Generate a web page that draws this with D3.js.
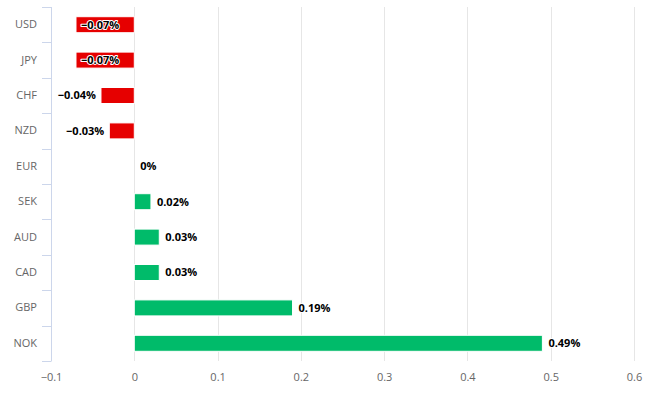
<!DOCTYPE html>
<html>
<head>
<meta charset="utf-8">
<script src="https://cdn.jsdelivr.net/npm/d3@7"></script>
<style>
  body { margin: 0; background: #fff; }
  text { font-family: "Open Sans", "Noto Sans", sans-serif; }
</style>
</head>
<body>
<div class="canvas"></div>
<script>
// data
const currencies = ['USD', 'JPY', 'CHF', 'NZD', 'EUR', 'SEK', 'AUD', 'CAD', 'GBP', 'NOK'];
const changes = [-0.07, -0.07, -0.04, -0.03, 0, 0.02, 0.03, 0.03, 0.19, 0.49];
const xTicks = [-0.1, 0, 0.1, 0.2, 0.3, 0.4, 0.5, 0.6];

const data = currencies.map((c, i) => ({name: c, value: changes[i]}));

const width = 649, height = 394;
const margin = {top: 7, right: 15, bottom: 33, left: 51};
const graphWidth = width - margin.left - margin.right;
const graphHeight = height - margin.top - margin.bottom;

const svg = d3.select('.canvas')
    .append('svg')
    .attr('width', width)
    .attr('height', height);

const graph = svg.append('g')
    .attr('transform', `translate(${margin.left},${margin.top})`);

const x = d3.scaleLinear()
    .domain([-0.1, 0.6])
    .range([0, graphWidth]);

const y = d3.scaleBand()
    .domain(currencies)
    .range([0, graphHeight]);

// gridlines
graph.append('g')
    .selectAll('line')
    .data(xTicks.slice(1))
    .enter()
    .append('line')
    .attr('x1', d => Math.round(x(d)) + 0.5)
    .attr('x2', d => Math.round(x(d)) + 0.5)
    .attr('y1', 0)
    .attr('y2', graphHeight)
    .attr('stroke', '#e6e6e6');

// bars
const barH = 16;
graph.selectAll('rect')
    .data(data)
    .enter()
    .append('rect')
    .attr('x', d => x(Math.min(0, d.value)))
    .attr('width', d => Math.abs(x(d.value) - x(0)))
    .attr('y', d => y(d.name) + y.bandwidth() / 2 - barH / 2)
    .attr('height', barH)
    .attr('fill', d => d.value < 0 ? '#e60000' : '#00bb6a')
    .attr('stroke', '#fff')
    .attr('stroke-width', 1);

// data labels
const fmt = v => (v < 0 ? '\u2212' + Math.abs(v) : v) + '%';
const labels = graph.selectAll('.lbl')
    .data(data)
    .enter()
    .append('text')
    .attr('class', 'lbl')
    .attr('y', d => y(d.name) + y.bandwidth() / 2)
    .attr('dy', '0.35em')
    .attr('font-size', 11)
    .attr('font-weight', 'bold')
    .attr('fill', '#000')
    .attr('stroke', '#fff')
    .attr('stroke-width', 2)
    .attr('stroke-linejoin', 'round')
    .attr('paint-order', 'stroke')
    .text(d => fmt(d.value));

labels.each(function(d) {
  const el = d3.select(this);
  const w = this.getComputedTextLength();
  if (d.value >= 0) {
    el.attr('x', x(d.value) + 6).attr('text-anchor', 'start');
  } else if (x(d.value) - 5 - w < 0) {
    el.attr('x', x(d.value) + 5).attr('text-anchor', 'start');
  } else {
    el.attr('x', x(d.value) - 5).attr('text-anchor', 'end');
  }
});

// y axis
const yAxis = d3.axisLeft(y).tickSize(0).tickPadding(14);
const yAxisGroup = graph.append('g').call(yAxis);
yAxisGroup.select('.domain').attr('stroke', '#ccd6eb').attr('d', `M0.5,0V${graphHeight}`);
yAxisGroup.selectAll('text')
    .attr('font-size', 11)
    .attr('fill', '#666')
    .style('font-family', '"Open Sans", sans-serif');

// category boundary ticks
graph.append('g')
    .selectAll('line')
    .data(d3.range(currencies.length + 1))
    .enter()
    .append('line')
    .attr('x1', -9)
    .attr('x2', 0.5)
    .attr('y1', i => Math.round(i * y.step()) + 0.5)
    .attr('y2', i => Math.round(i * y.step()) + 0.5)
    .attr('stroke', '#ccd6eb');

// x axis labels
const xAxis = d3.axisBottom(x)
    .tickValues(xTicks)
    .tickSize(0)
    .tickPadding(12)
    .tickFormat(d => d < 0 ? '\u2212' + Math.abs(d) : d);
const xAxisGroup = graph.append('g')
    .attr('transform', `translate(0, ${graphHeight})`)
    .call(xAxis);
xAxisGroup.select('.domain').remove();
xAxisGroup.selectAll('text')
    .attr('font-size', 11)
    .attr('fill', '#666')
    .style('font-family', '"Open Sans", sans-serif');
</script>
</body>
</html>
